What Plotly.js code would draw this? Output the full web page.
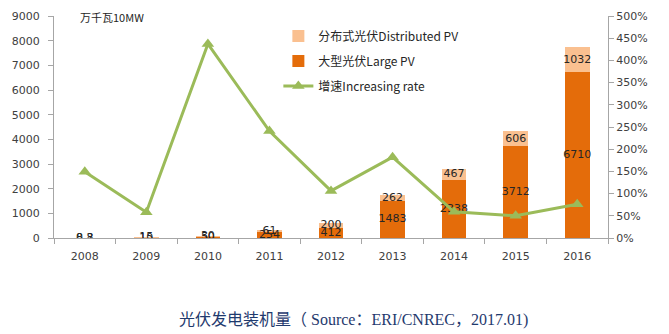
<!DOCTYPE html>
<html><head><meta charset="utf-8">
<script src="https://cdn.plot.ly/plotly-3.0.1.min.js"></script>
<style>body{margin:0;background:#fff}#c{width:669px;height:334px}</style>
</head><body><div id="c"></div>
<script>
const years = ['2008','2009','2010','2011','2012','2013','2014','2015','2016'];
const largePV = [0.8, 10, 50, 254, 412, 1483, 2338, 3712, 6710];
const distPV = [8.2, 15, 30, 61, 200, 262, 467, 606, 1032];
const rate = [1.49, 0.58, 4.37, 2.41, 1.06, 1.82, 0.59, 0.50, 0.76];
const leftTicks = [0,1000,2000,3000,4000,5000,6000,7000,8000,9000];

const labFont = {family:'DejaVu Sans, Verdana, sans-serif', size:11, color:'#262626'};
const traces = [
  {type:'bar', x:years, y:largePV, name:'大型光伏Large PV', marker:{color:'#E46C0A'}, legendrank:2, legendgroup:'b', hoverinfo:'skip'},
  {type:'bar', x:years, y:distPV, name:'分布式光伏Distributed PV', marker:{color:'#FAC090'}, legendrank:1, legendgroup:'a', hoverinfo:'skip'},
  {type:'scatter', mode:'text', x:years, y:largePV.map(v=>v/2), text:largePV.map(String), textfont:labFont, showlegend:false, hoverinfo:'skip'},
  {type:'scatter', mode:'text', x:years, y:largePV.map((v,i)=>v+distPV[i]/2), text:distPV.map(String), textfont:labFont, showlegend:false, hoverinfo:'skip'},
  {type:'scatter', mode:'lines+markers', x:years, y:rate, yaxis:'y2', name:'增速Increasing rate', legendrank:3, legendgroup:'c',
   line:{color:'#9BBB59', width:3}, marker:{symbol:'triangle-up', size:11, color:'#9BBB59'}, hoverinfo:'skip'}
];
const tickFont = {family:'DejaVu Sans, Verdana, sans-serif', size:11, color:'#404040'};
const layout = {
  width:669, height:334, margin:{l:54, r:61, t:16, b:96},
  paper_bgcolor:'#fff', plot_bgcolor:'#fff',
  barmode:'stack', bargap:0.6, showlegend:true,
  legend:{x:0.405, y:0.975, xanchor:'left', yanchor:'top', bgcolor:'rgba(0,0,0,0)', traceorder:'grouped',
    font:{family:'Noto Sans CJK SC, sans-serif', size:12, color:'#262626'}, tracegroupgap:6},
  xaxis:{type:'category', range:[-0.5,8.5], showline:true, linecolor:'#a6a6a6', linewidth:1,
    ticks:'outside', tickson:'boundaries', ticklen:5, tickcolor:'#a6a6a6', tickfont:tickFont,
    showgrid:false, zeroline:false, ticklabelstandoff:8},
  yaxis:{range:[0,9000], tickvals:leftTicks, showline:true, linecolor:'#a6a6a6', linewidth:1,
    ticks:'outside', ticklen:5, tickcolor:'#a6a6a6', tickfont:tickFont, showgrid:false, zeroline:false, ticklabelstandoff:6},
  yaxis2:{overlaying:'y', side:'right', range:[0,5], dtick:0.5, tickformat:'.0%', showline:true, linecolor:'#a6a6a6',
    linewidth:1, ticks:'outside', ticklen:5, tickcolor:'#a6a6a6', tickfont:tickFont, showgrid:false, zeroline:false},
  annotations:[
    {xref:'paper', yref:'paper', x:0.043, y:0.995, xanchor:'left', yanchor:'middle', showarrow:false,
     text:'万千瓦10MW', font:{family:'Noto Sans CJK SC, sans-serif', size:11, color:'#262626'}},
    {xref:'paper', yref:'paper', x:0.54, y:-0.37, xanchor:'center', yanchor:'middle', showarrow:false,
     text:'光伏发电装机量（ Source：ERI/CNREC，2017.01)', font:{family:'Liberation Serif, Noto Sans CJK SC, serif', size:16, color:'#1F3A6E'}}
  ]
};
Plotly.newPlot('c', traces, layout, {staticPlot:true, displayModeBar:false});
</script></body></html>
